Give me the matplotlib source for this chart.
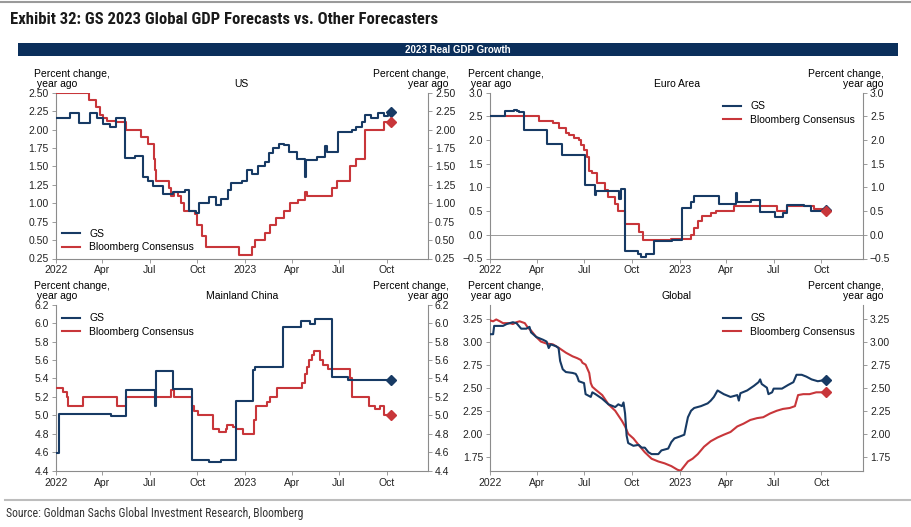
import matplotlib
matplotlib.use("Agg")
import matplotlib.pyplot as plt
import matplotlib.ticker as mticker
import pandas as pd

# --- data ---
us_gs_dates = ["2022-01-01", "2022-01-28", "2022-02-15", "2022-03-09", "2022-03-21", "2022-04-02",
               "2022-04-15", "2022-04-28", "2022-05-15", "2022-06-02", "2022-06-19", "2022-06-28",
               "2022-07-07", "2022-07-26", "2022-08-15", "2022-09-07", "2022-09-16", "2022-09-28",
               "2022-10-05", "2022-10-24", "2022-11-06", "2022-11-15", "2022-11-30", "2022-12-06",
               "2022-12-27", "2023-01-05", "2023-01-15", "2023-01-26", "2023-02-09", "2023-02-16",
               "2023-02-25", "2023-03-07", "2023-03-17", "2023-03-26", "2023-04-11", "2023-04-26",
               "2023-04-28", "2023-05-20", "2023-06-04", "2023-06-08", "2023-06-30", "2023-07-26",
               "2023-08-04", "2023-08-14", "2023-08-20", "2023-09-02", "2023-09-15", "2023-09-27",
               "2023-10-04", "2023-10-09"]
us_gs_vals = [2.15, 2.22, 2.09, 2.23, 2.16, 2.08, 2.03, 2.16, 1.61, 1.64, 1.36, 1.30,
              1.23, 1.13, 1.15, 1.18, 0.90, 0.87, 1.00, 1.08, 0.97, 1.06, 1.18, 1.27,
              1.30, 1.45, 1.40, 1.50, 1.56, 1.68, 1.75, 1.81, 1.79, 1.70, 1.60, 1.35,
              1.58, 1.63, 1.77, 1.70, 1.96, 2.00, 2.04, 2.10, 2.20, 2.16, 2.22, 2.18,
              2.22, 2.24]

us_bb_dates = ["2022-01-01", "2022-03-06", "2022-03-19", "2022-03-27", "2022-04-02", "2022-04-10",
               "2022-04-28", "2022-05-17", "2022-06-15", "2022-06-28", "2022-07-10", "2022-07-12",
               "2022-07-14", "2022-08-08", "2022-08-11", "2022-08-18", "2022-08-24", "2022-08-30",
               "2022-09-05", "2022-09-27", "2022-10-01", "2022-10-11", "2022-10-17", "2022-12-20",
               "2023-01-15", "2023-01-21", "2023-02-09", "2023-02-19", "2023-03-01", "2023-03-17",
               "2023-03-29", "2023-04-14", "2023-04-26", "2023-04-30", "2023-06-17", "2023-06-27",
               "2023-07-22", "2023-08-04", "2023-08-20", "2023-09-27", "2023-10-09"]
us_bb_vals = [2.50, 2.40, 2.30, 2.20, 2.15, 2.12, 2.10, 2.00, 1.90, 1.80, 1.60, 1.45,
              1.30, 1.20, 1.10, 1.15, 1.10, 1.00, 0.90, 0.85, 0.70, 0.55, 0.40, 0.30,
              0.40, 0.50, 0.60, 0.70, 0.80, 0.90, 1.00, 1.05, 1.15, 1.10, 1.20, 1.30,
              1.50, 1.60, 2.00, 2.10, 2.10]

ea_gs_dates = ["2022-01-01", "2022-01-30", "2022-02-17", "2022-02-22", "2022-02-26", "2022-03-08",
               "2022-04-21", "2022-05-20", "2022-07-03", "2022-07-22", "2022-07-25", "2022-09-01",
               "2022-09-06", "2022-09-11", "2022-09-17", "2022-10-13", "2022-10-18", "2022-10-28",
               "2022-11-13", "2022-12-18", "2023-01-06", "2023-01-22", "2023-01-28", "2023-03-17",
               "2023-04-20", "2023-04-22", "2023-05-19", "2023-06-04", "2023-07-03", "2023-07-19",
               "2023-07-26", "2023-08-29", "2023-09-11", "2023-10-09"]
ea_gs_vals = [2.50, 2.62, 2.63, 2.62, 2.60, 2.22, 1.92, 1.69, 1.05, 0.84, 0.93, 0.93,
              0.75, 0.97, -0.35, -0.41, -0.47, -0.40, -0.13, -0.10, 0.56, 0.70, 0.81, 0.66,
              0.88, 0.70, 0.74, 0.49, 0.38, 0.47, 0.63, 0.60, 0.51, 0.52]

ea_bb_dates = ["2022-01-01", "2022-04-06", "2022-05-02", "2022-05-14", "2022-05-27", "2022-06-02",
               "2022-06-12", "2022-06-21", "2022-06-26", "2022-07-01", "2022-07-07", "2022-07-10",
               "2022-07-17", "2022-07-26", "2022-08-11", "2022-08-17", "2022-08-30", "2022-09-05",
               "2022-09-17", "2022-10-14", "2022-10-23", "2022-12-16", "2023-01-23", "2023-01-29",
               "2023-02-05", "2023-02-14", "2023-03-02", "2023-03-12", "2023-04-15", "2023-07-08",
               "2023-07-26", "2023-09-17", "2023-10-09"]
ea_bb_vals = [2.50, 2.40, 2.35, 2.25, 2.15, 2.10, 2.05, 2.00, 1.90, 1.80, 1.65, 1.35,
              1.30, 1.10, 0.95, 0.80, 0.65, 0.50, 0.22, 0.05, -0.10, -0.08, 0.00, 0.15,
              0.30, 0.40, 0.45, 0.50, 0.60, 0.50, 0.60, 0.55, 0.50]

cn_gs_dates = ["2022-01-01", "2022-01-08", "2022-03-14", "2022-04-18", "2022-05-16", "2022-07-12",
               "2022-07-14", "2022-08-16", "2022-09-21", "2022-10-23", "2022-11-16", "2022-12-15",
               "2023-01-16", "2023-01-20", "2023-03-15", "2023-04-19", "2023-05-07", "2023-05-16",
               "2023-06-17", "2023-07-18", "2023-10-09"]
cn_gs_vals = [4.59, 5.01, 5.02, 4.99, 5.27, 5.10, 5.48, 5.29, 4.52, 4.49, 4.52, 5.16,
              5.49, 5.52, 5.96, 6.02, 5.99, 6.04, 5.42, 5.38, 5.38]

cn_bb_dates = ["2022-01-01", "2022-01-16", "2022-01-22", "2022-01-25", "2022-02-22", "2022-04-30",
               "2022-05-16", "2022-08-11", "2022-08-18", "2022-09-21", "2022-09-25", "2022-10-03",
               "2022-11-01", "2022-11-12", "2022-11-25", "2022-11-28", "2022-12-08", "2022-12-14",
               "2022-12-28", "2023-01-19", "2023-01-23", "2023-02-13", "2023-02-19", "2023-03-04",
               "2023-04-21", "2023-04-26", "2023-04-30", "2023-05-04", "2023-05-10", "2023-05-15",
               "2023-05-26", "2023-06-01", "2023-06-11", "2023-07-22", "2023-07-26", "2023-08-28",
               "2023-09-08", "2023-09-18", "2023-09-27", "2023-10-09"]
cn_bb_vals = [5.30, 5.25, 5.20, 5.10, 5.20, 5.10, 5.20, 5.28, 5.20, 5.10, 5.05, 5.00,
              4.85, 4.82, 4.85, 4.90, 4.87, 4.85, 4.80, 4.95, 5.10, 5.15, 5.20, 5.30,
              5.35, 5.45, 5.52, 5.60, 5.65, 5.70, 5.60, 5.55, 5.50, 5.40, 5.20, 5.10,
              5.07, 5.10, 5.00, 5.00]

gl_gs_dates = ["2022-01-01", "2022-01-07", "2022-01-09", "2022-01-26", "2022-02-02", "2022-02-14",
               "2022-02-21", "2022-03-02", "2022-03-12", "2022-03-18", "2022-03-21", "2022-03-31",
               "2022-04-13", "2022-04-20", "2022-04-24", "2022-04-28", "2022-05-08", "2022-05-13",
               "2022-05-16", "2022-05-21", "2022-05-27", "2022-06-09", "2022-06-15", "2022-06-18",
               "2022-06-21", "2022-07-01", "2022-07-04", "2022-07-14", "2022-07-17", "2022-07-23",
               "2022-08-05", "2022-08-17", "2022-08-30", "2022-09-05", "2022-09-12", "2022-09-15",
               "2022-09-18", "2022-09-21", "2022-09-24", "2022-10-04", "2022-10-14", "2022-10-20",
               "2022-10-26", "2022-11-02", "2022-11-08", "2022-11-21", "2022-11-27", "2022-12-10",
               "2022-12-16", "2022-12-22", "2023-01-01", "2023-01-10", "2023-01-14", "2023-01-17",
               "2023-01-23", "2023-01-29", "2023-02-11", "2023-02-24", "2023-03-02", "2023-03-08",
               "2023-03-15", "2023-03-21", "2023-03-27", "2023-04-09", "2023-04-22", "2023-04-25",
               "2023-04-28", "2023-05-11", "2023-05-24", "2023-06-02", "2023-06-05", "2023-06-08",
               "2023-06-18", "2023-06-21", "2023-06-28", "2023-07-01", "2023-07-17", "2023-07-29",
               "2023-08-08", "2023-08-14", "2023-08-24", "2023-09-02", "2023-09-12", "2023-09-24",
               "2023-10-04", "2023-10-09"]
gl_gs_vals = [3.08, 3.08, 3.17, 3.17, 3.19, 3.21, 3.20, 3.14, 3.14, 3.16, 3.10, 3.05,
              3.02, 3.00, 2.93, 2.97, 2.95, 2.93, 2.79, 2.70, 2.67, 2.66, 2.65, 2.62,
              2.57, 2.55, 2.43, 2.40, 2.45, 2.43, 2.38, 2.32, 2.29, 2.32, 2.30, 2.34,
              2.22, 1.98, 1.90, 1.87, 1.88, 1.85, 1.85, 1.80, 1.78, 1.78, 1.82, 1.84,
              1.91, 1.95, 1.97, 1.99, 2.10, 2.18, 2.25, 2.28, 2.30, 2.33, 2.36, 2.40,
              2.47, 2.45, 2.43, 2.40, 2.42, 2.36, 2.44, 2.47, 2.52, 2.56, 2.59, 2.54,
              2.50, 2.43, 2.45, 2.49, 2.49, 2.53, 2.56, 2.64, 2.64, 2.62, 2.59, 2.57,
              2.58, 2.58]

gl_bb_dates = ["2022-01-01", "2022-01-07", "2022-01-13", "2022-01-20", "2022-01-26", "2022-02-08",
               "2022-02-14", "2022-02-21", "2022-02-27", "2022-03-09", "2022-03-15", "2022-03-21",
               "2022-03-31", "2022-04-09", "2022-04-19", "2022-05-02", "2022-05-14", "2022-05-27",
               "2022-06-09", "2022-06-18", "2022-06-25", "2022-06-28", "2022-07-04", "2022-07-11",
               "2022-07-14", "2022-07-17", "2022-07-23", "2022-08-05", "2022-08-17", "2022-08-30",
               "2022-09-12", "2022-09-18", "2022-09-24", "2022-10-04", "2022-10-14", "2022-10-26",
               "2022-11-08", "2022-11-21", "2022-12-03", "2022-12-16", "2022-12-28", "2023-01-03",
               "2023-01-10", "2023-01-17", "2023-01-26", "2023-02-05", "2023-02-17", "2023-03-02",
               "2023-03-15", "2023-03-27", "2023-04-09", "2023-04-22", "2023-05-04", "2023-05-17",
               "2023-05-30", "2023-06-11", "2023-06-24", "2023-07-07", "2023-07-19", "2023-08-01",
               "2023-08-11", "2023-08-17", "2023-08-27", "2023-09-08", "2023-09-21", "2023-10-04",
               "2023-10-09"]
gl_bb_vals = [3.23, 3.22, 3.24, 3.22, 3.20, 3.20, 3.19, 3.21, 3.22, 3.20, 3.15, 3.12,
              3.05, 3.00, 2.98, 2.97, 2.93, 2.88, 2.84, 2.82, 2.80, 2.77, 2.75, 2.66,
              2.55, 2.51, 2.48, 2.42, 2.32, 2.25, 2.14, 2.08, 2.00, 1.95, 1.88, 1.80,
              1.73, 1.70, 1.68, 1.65, 1.61, 1.60, 1.65, 1.70, 1.73, 1.78, 1.86, 1.92,
              1.96, 1.99, 2.02, 2.08, 2.11, 2.15, 2.17, 2.18, 2.22, 2.25, 2.27, 2.28,
              2.30, 2.42, 2.43, 2.43, 2.45, 2.45, 2.45]

tick_dates = ["2022-01-01", "2022-04-01", "2022-07-01", "2022-10-01",
              "2023-01-01", "2023-04-01", "2023-07-01", "2023-10-01"]
tick_labels = ["2022", "Apr", "Jul", "Oct", "2023", "Apr", "Jul", "Oct"]

GS_COL = "#173a64"
BB_COL = "#c8363a"
SPINE = "#8c8c8c"
FONT = ["Liberation Sans", "DejaVu Sans"]
NARROW = ["Roboto Condensed", "Liberation Sans", "DejaVu Sans"]

plt.rcParams["font.family"] = FONT

fig = plt.figure(figsize=(9.11, 5.27), dpi=100)
W, H = 911, 527


def px_axes(l, t, r, b):
    return fig.add_axes([l / W, 1 - b / H, (r - l) / W, (b - t) / H])


def draw_panel(ax, title, gd, gv, bd, bv, ylim, yticks, fmt, leg_loc, leg_anchor, step=True):
    ds = "steps-post" if step else "default"
    gd = pd.to_datetime(gd)
    bd = pd.to_datetime(bd)
    ax.plot(bd, bv, color=BB_COL, lw=1.5, drawstyle=ds, label="Bloomberg Consensus", zorder=3)
    ax.plot(gd, gv, color=GS_COL, lw=1.5, drawstyle=ds, label="GS", zorder=4)
    ax.plot(gd[-1:], gv[-1:], marker="D", ms=5.5, color=GS_COL, ls="none", zorder=5)
    ax.plot(bd[-1:], bv[-1:], marker="D", ms=5.5, color=BB_COL, ls="none", zorder=5)

    ax.set_xlim(pd.Timestamp("2022-01-01"), pd.Timestamp("2023-12-20"))
    ax.set_ylim(*ylim)
    ax.set_yticks(yticks)
    ax.yaxis.set_major_formatter(mticker.FuncFormatter(lambda v, p: (fmt % v).replace("-", "\u2212")))
    ax.set_xticks(pd.to_datetime(tick_dates))
    ax.set_xticklabels(tick_labels)

    for s in ["left", "right", "bottom"]:
        ax.spines[s].set_color(SPINE)
        ax.spines[s].set_linewidth(0.8)
    ax.spines["top"].set_visible(False)
    ax.yaxis.set_ticks_position("both")
    ax.tick_params(axis="y", which="both", direction="out", length=3, width=0.6, color=SPINE,
                   labelsize=7.5, labelcolor="#222222", pad=2, labelright=True)
    ax.tick_params(axis="x", direction="out", length=3, width=0.6, color=SPINE,
                   labelsize=7.5, labelcolor="#222222", pad=2)

    ax.text(0.5, 1.055, title, transform=ax.transAxes, ha="center", va="center", fontsize=7.5)
    ax.text(-0.058, 1.02, "Percent change,\n year ago", transform=ax.transAxes, ha="left",
            va="bottom", fontsize=7.5, linespacing=1.0)
    ax.text(1.055, 1.02, "Percent change,\nyear ago", transform=ax.transAxes, ha="right",
            va="bottom", fontsize=7.5, linespacing=1.0, multialignment="right")

    h, l = ax.get_legend_handles_labels()
    ax.legend(h[::-1], l[::-1], loc=leg_loc, bbox_to_anchor=leg_anchor, frameon=False, fontsize=7.5,
              handlelength=1.7, handletextpad=0.9, labelspacing=0.35, borderaxespad=0.2)


ax_us = px_axes(55.7, 92.7, 428, 258.5)
ax_ea = px_axes(490, 92.7, 863, 258.5)
ax_cn = px_axes(55.7, 304.7, 428, 470.7)
ax_gl = px_axes(490, 304.7, 863, 470.7)

draw_panel(ax_us, "US", us_gs_dates, us_gs_vals, us_bb_dates, us_bb_vals,
           (0.25, 2.5), [0.25, 0.5, 0.75, 1.0, 1.25, 1.5, 1.75, 2.0, 2.25, 2.5], "%.2f",
           "lower left", (0.0, 0.0))
draw_panel(ax_ea, "Euro Area", ea_gs_dates, ea_gs_vals, ea_bb_dates, ea_bb_vals,
           (-0.5, 3.0), [-0.5, 0.0, 0.5, 1.0, 1.5, 2.0, 2.5, 3.0], "%.1f",
           "upper right", (0.995, 0.985))
ax_ea.axhline(0, color="#9a9a9a", lw=0.7, zorder=1)
draw_panel(ax_cn, "Mainland China", cn_gs_dates, cn_gs_vals, cn_bb_dates, cn_bb_vals,
           (4.4, 6.2), [4.4, 4.6, 4.8, 5.0, 5.2, 5.4, 5.6, 5.8, 6.0, 6.2], "%.1f",
           "upper left", (0.0, 0.985))
draw_panel(ax_gl, "Global", gl_gs_dates, gl_gs_vals, gl_bb_dates, gl_bb_vals,
           (1.6, 3.4), [1.75, 2.0, 2.25, 2.5, 2.75, 3.0, 3.25], "%.2f",
           "upper right", (0.995, 0.985), step=False)

# header / footer decoration
fig.add_artist(plt.Line2D([0, 1], [1 - 2 / H, 1 - 2 / H], color="#9a9a9a", lw=1.5))
fig.text(10 / W, 1 - 20 / H, "Exhibit 32: GS 2023 Global GDP Forecasts vs. Other Forecasters",
         family=NARROW, fontsize=12, fontweight="bold", va="center", ha="left", color="#1a1a1a")
fig.add_artist(plt.Rectangle((18 / W, 1 - 55.7 / H), (898 - 18) / W, 12.4 / H,
                             color="#0b2f5b", lw=0))
fig.text(458 / W, 1 - 49.5 / H, "2023 Real GDP Growth", color="white", fontsize=7,
         fontweight="bold", ha="center", va="center")
fig.add_artist(plt.Line2D([5 / W, 1], [1 - 500 / H, 1 - 500 / H], color="#bdbdbd", lw=1.5))
fig.text(6 / W, 1 - 514 / H, "Source: Goldman Sachs Global Investment Research, Bloomberg",
         family=NARROW, fontsize=8.5, va="center", ha="left", color="#333333")

fig.savefig("out.png", dpi=100)
